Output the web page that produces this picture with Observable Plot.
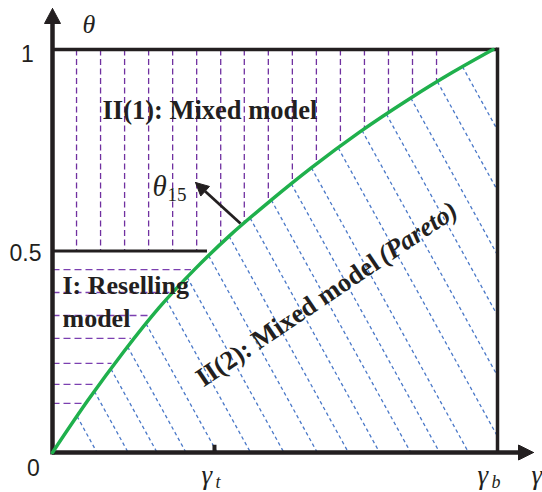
<!DOCTYPE html>
<html><head><meta charset="utf-8">
<script src="https://cdn.jsdelivr.net/npm/d3@7"></script>
<script src="https://cdn.jsdelivr.net/npm/@observablehq/plot@0.6"></script>
<style>html,body{margin:0;padding:0;background:#fff}</style>
</head><body><div id="chart"></div>
<script>
// ---- data (x = γ/γb, y = θ) ----
const gammaT = 0.364;           // γt position
const gammaB = 1;               // γb position
const curveX     = [0, 0.08, 0.16, 0.24, 0.32, 0.40, 0.49, 0.58, 0.69, 0.80, 0.90, 0.99];
const curveTheta = [0, 0.13, 0.25, 0.36, 0.455, 0.54, 0.625, 0.705, 0.795, 0.876, 0.944, 1.0];
const vLineX = [0.054,0.108,0.162,0.216,0.270,0.324,0.378,0.431,0.485,0.539,0.593,0.647,0.701,0.755,0.809,0.863];
const hLineTheta = [0.454,0.397,0.340,0.283,0.221,0.169,0.122];
const hatchC = [0.10,0.17,0.235,0.30,0.37,0.445,0.52,0.595,0.665,0.735,0.805,0.87,0.935,1.02,1.095,1.17,1.245,1.325,1.40];
const hatchSlope = 2;
const yTickValues = [1, 0.5, 0];
const yTickLabels = ["1", "0.5", "0"];

// ---- layout ----
const W = 542, H = 492, mL = 52, mR = 45, mT = 49, mB = 40;
const kx = W - mL - mR, ky = H - mT - mB;
const px2x = p => (p - mL) / kx, px2y = p => (H - mB - p) / ky;

const INK = "#231f20", PURPLE = "#7030a0", BLUE = "#4a78c8", GREEN = "#1fb04c";

function interp(xs, ys, x) {
  if (x <= xs[0]) return ys[0];
  for (let i = 1; i < xs.length; i++) if (x <= xs[i]) {
    const t = (x - xs[i-1]) / (xs[i] - xs[i-1]); return ys[i-1] + t * (ys[i] - ys[i-1]);
  }
  return ys[ys.length - 1];
}
const f = x => interp(curveX, curveTheta, x);
const finv = t => interp(curveTheta, curveX, t);
function solve(g, lo, hi) { for (let i = 0; i < 60; i++) { const m = (lo + hi) / 2; if (g(lo) * g(m) <= 0) hi = m; else lo = m; } return (lo + hi) / 2; }

const curve = curveX.map((x, i) => ({x, y: curveTheta[i]}));
const vLines = vLineX.map(x => ({x, y1: 1, y2: x < gammaT ? 0.5 : f(x)}));
const hLines = hLineTheta.map(y => ({y, x1: 0, x2: finv(y) - 0.008}));
const hatch = hatchC.map(c => {
  const x0 = solve(x => f(x) - hatchSlope * (c - x), 0, Math.min(1, c));
  const end = c <= 1 ? {x: c, y: 0} : {x: 1, y: hatchSlope * (c - 1)};
  return {x1: x0, y1: f(x0), x2: end.x, y2: end.y};
});

// triangle (arrowhead) in pixel geometry -> data
function tri(tx, ty, dx, dy, len, hw, id) {
  const n = Math.hypot(dx, dy); dx /= n; dy /= n;
  const bx = tx - dx * len, by = ty - dy * len;
  const pts = [[tx, ty], [bx - dy * hw, by + dx * hw], [bx + dy * hw, by - dx * hw], [tx, ty]];
  return pts.map(([a, b]) => ({x: px2x(a), y: px2y(b), id}));
}
const heads = [
  ...tri(mL, 8, 0, -1, 15, 8, "up"),
  ...tri(533, H - mB, 1, 0, 15, 7.5, "right"),
  ...tri(195, 182, -45, -41, 13, 6.5, "theta")
];
const arrowTail = {x: px2x(240), y: px2y(223)};
const arrowBase = {x: px2x(195 + 13 * 45 / 60.9), y: px2y(182 + 13 * 41 / 60.9)};

const serif = "Liberation Serif, Times New Roman, serif";
const sans = "Liberation Sans, Arial, sans-serif";
const ang = -34 * Math.PI / 180;
const sx = 203, sy = 387, off = 219;

const label = (t, x, y, o) => Plot.text([t], Object.assign({x, y, textAnchor: "start", lineAnchor: "bottom", fill: INK}, o));

const plot = Plot.plot({
  width: W, height: H, marginLeft: mL, marginRight: mR, marginTop: mT, marginBottom: mB,
  x: {domain: [0, 1], axis: null},
  y: {domain: [0, 1], axis: null},
  style: {background: "#fff", overflow: "visible"},
  marks: [
    // hatching
    Plot.link(hatch, {x1: "x1", y1: "y1", x2: "x2", y2: "y2", stroke: BLUE, strokeWidth: 1.3, strokeDasharray: "3.5,3"}),
    Plot.link(vLines, {x1: "x", x2: "x", y1: "y1", y2: "y2", stroke: PURPLE, strokeWidth: 1.3, strokeDasharray: "6,3.5"}),
    Plot.link(hLines, {x1: "x1", x2: "x2", y1: "y", y2: "y", stroke: "#7b3fb0", strokeWidth: 1.3, strokeDasharray: "7,4"}),
    // frame
    Plot.ruleY([1], {x1: 0, x2: gammaB, stroke: INK, strokeWidth: 3.5}),
    Plot.ruleX([gammaB], {y1: -0.004, y2: 1.004, stroke: INK, strokeWidth: 3.5}),
    Plot.ruleY([0.5], {x1: 0, x2: px2x(207), stroke: INK, strokeWidth: 3}),
    Plot.ruleX([gammaT], {y1: 0, y2: 0.018, stroke: INK, strokeWidth: 4}),
    // axes
    Plot.ruleX([0], {y1: -0.006, y2: px2y(22), stroke: INK, strokeWidth: 4.5}),
    Plot.ruleY([0], {x1: 0, x2: px2x(519), stroke: INK, strokeWidth: 4.5}),
    Plot.line(heads, {x: "x", y: "y", z: "id", fill: INK, stroke: INK, strokeWidth: 1}),
    // curve
    Plot.line(curve, {x: "x", y: "y", stroke: GREEN, strokeWidth: 3.5, curve: "monotone-x"}),
    // θ15 arrow
    Plot.link([0], {x1: arrowTail.x, y1: arrowTail.y, x2: arrowBase.x, y2: arrowBase.y, stroke: INK, strokeWidth: 2.8}),
    // tick labels
    label(yTickLabels[0], 0, yTickValues[0], {fontFamily: sans, fontSize: 23, textAnchor: "middle", dx: -25, dy: 12}),
    label(yTickLabels[1], 0, yTickValues[1], {fontFamily: sans, fontSize: 23, textAnchor: "end", dx: -11, dy: 10}),
    label(yTickLabels[2], 0, yTickValues[2], {fontFamily: sans, fontSize: 23, textAnchor: "middle", dx: -19, dy: 23}),
    // axis / math labels
    label("θ", px2x(82), px2y(32), {fontFamily: serif, fontStyle: "italic", fontSize: 26}),
    label("γ", gammaT, 0, {dx: -13, dy: 31, fontFamily: serif, fontStyle: "italic", fontSize: 27}),
    label("t", gammaT, 0, {dx: 1, dy: 35, fontFamily: serif, fontStyle: "italic", fontSize: 18}),
    label("γ", gammaB, 0, {dx: -20, dy: 31, fontFamily: serif, fontStyle: "italic", fontSize: 27}),
    label("b", gammaB, 0, {dx: -6, dy: 35, fontFamily: serif, fontStyle: "italic", fontSize: 18}),
    label("γ", gammaB, 0, {dx: 34, dy: 31, fontFamily: serif, fontStyle: "italic", fontSize: 27}),
    label("θ", px2x(152), px2y(195), {fontFamily: serif, fontStyle: "italic", fontSize: 29}),
    label("15", px2x(167), px2y(200), {fontFamily: serif, fontSize: 19}),
    // region labels
    label("II(1): Mixed model", px2x(102), px2y(118), {fontFamily: serif, fontWeight: "bold", fontSize: 26.5}),
    Plot.text(["I: Reselling", "model"], {x: px2x(62), y: (d, i) => px2y(i ? 326 : 293), fontFamily: serif, fontWeight: "bold", fontSize: 26, textAnchor: "start", lineAnchor: "bottom", fill: INK}),
    label("II(2): Mixed model", px2x(sx), px2y(sy), {rotate: -34, fontFamily: serif, fontWeight: "bold", fontSize: 26.5}),
    label("(Pareto)", px2x(sx + off * Math.cos(ang)), px2y(sy + off * Math.sin(ang)), {rotate: -34, fontFamily: serif, fontWeight: "bold", fontStyle: "italic", fontSize: 26.5})
  ]
});
document.getElementById("chart").appendChild(plot);
</script></body></html>
